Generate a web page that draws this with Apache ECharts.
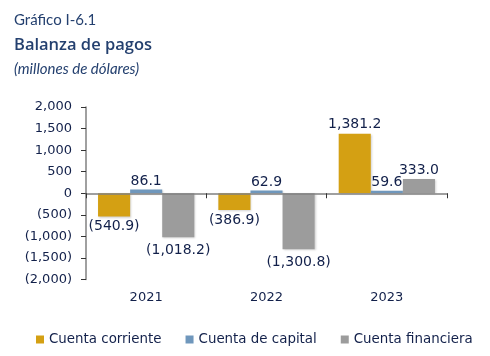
<!DOCTYPE html>
<html>
<head>
<meta charset="utf-8">
<script src="https://cdn.jsdelivr.net/npm/echarts@6/dist/echarts.min.js"></script>
<style>
html,body{margin:0;padding:0;background:#fff;}
#chart{width:490px;height:356px;}
</style>
</head>
<body>
<div id="chart"></div>
<script>
const categories = ['2021', '2022', '2023'];
const cuentaCorriente = [-540.9, -386.9, 1381.2];
const cuentaCapital = [86.1, 62.9, 59.6];
const cuentaFinanciera = [-1018.2, -1300.8, 333.0];
const seriesNames = ['Cuenta corriente', 'Cuenta de capital', 'Cuenta financiera'];
const titleLines = ['Gráfico I-6.1', 'Balanza de pagos', '(millones de dólares)'];

const textColor = '#12204A';
const titleColor = '#24406F';
const axisFont = 'DejaVu Sans, Verdana, sans-serif';

function fmt(v) {
  const s = Math.abs(v).toLocaleString('en-US', {minimumFractionDigits: 0, maximumFractionDigits: 1});
  return v < 0 ? '(' + s + ')' : s;
}
function fmtLabel(v) {
  const s = Math.abs(v).toLocaleString('en-US', {minimumFractionDigits: 1, maximumFractionDigits: 1});
  return v < 0 ? '(' + s + ')' : s;
}

const chart = echarts.init(document.getElementById('chart'), null, {renderer: 'canvas'});

function barSeries(name, data, color, negDist, posDist) {
  return {
    name: name,
    type: 'bar',
    xAxisIndex: 0,
    data: data.map(v => ({value: v, label: {position: v < 0 ? 'bottom' : 'top', distance: v < 0 ? negDist : posDist}})),
    barGap: '0%',
    barCategoryGap: '20%',
    itemStyle: {
      color: color,
      shadowColor: 'rgba(0,0,0,0.18)',
      shadowBlur: 2,
      shadowOffsetX: 1,
      shadowOffsetY: 1
    },
    label: {
      show: true,
      fontFamily: axisFont,
      fontSize: 14,
      color: textColor,
      formatter: p => fmtLabel(p.value)
    },
    z: 2
  };
}

chart.setOption({
  backgroundColor: '#ffffff',
  animation: false,
  title: [
    {text: titleLines[0], left: 14, top: 13, padding: 0, textStyle: {fontFamily: 'Lato, sans-serif', fontWeight: 'normal', fontSize: 15, color: titleColor}},
    {text: titleLines[1], left: 14, top: 37, padding: 0, textStyle: {fontFamily: 'Open Sans, sans-serif', fontWeight: 600, fontSize: 16.5, color: titleColor}},
    {text: titleLines[2], left: 14, top: 62, padding: 0, textStyle: {fontFamily: 'Lato, sans-serif', fontStyle: 'italic', fontWeight: 'normal', fontSize: 15, color: titleColor}}
  ],
  legend: {
    left: 31,
    top: 328,
    itemWidth: 8,
    itemHeight: 8,
    itemGap: 24,
    icon: 'rect',
    textStyle: {fontFamily: axisFont, fontSize: 13.4, color: textColor},
    data: seriesNames
  },
  grid: {left: 86, right: 43, top: 107, bottom: 76.5, containLabel: false},
  xAxis: [
    {
      type: 'category',
      data: categories,
      position: 'bottom',
      axisLine: {show: false, onZero: false},
      axisTick: {show: false},
      axisLabel: {margin: 12, fontFamily: axisFont, fontSize: 13, color: textColor}
    },
    {
      type: 'category',
      data: categories,
      position: 'bottom',
      z: 10,
      axisLine: {show: true, onZero: true, lineStyle: {color: '#808080', width: 1.5}},
      axisTick: {show: true, length: 5, lineStyle: {color: '#333'}},
      axisLabel: {show: false}
    }
  ],
  yAxis: {
    type: 'value',
    min: -2000,
    max: 2000,
    interval: 500,
    axisLine: {show: true, lineStyle: {color: '#808080', width: 1.5}},
    axisTick: {show: true, length: 5, lineStyle: {color: '#333'}},
    splitLine: {show: false},
    axisLabel: {margin: 14, fontFamily: axisFont, fontSize: 13, color: textColor, formatter: v => fmt(v)}
  },
  series: [
    barSeries(seriesNames[0], cuentaCorriente, '#D4A013', 3, 2),
    barSeries(seriesNames[1], cuentaCapital, '#6F97BC', 3, 1),
    barSeries(seriesNames[2], cuentaFinanciera, '#9C9C9C', 6, 2)
  ]
});
</script>
</body>
</html>
